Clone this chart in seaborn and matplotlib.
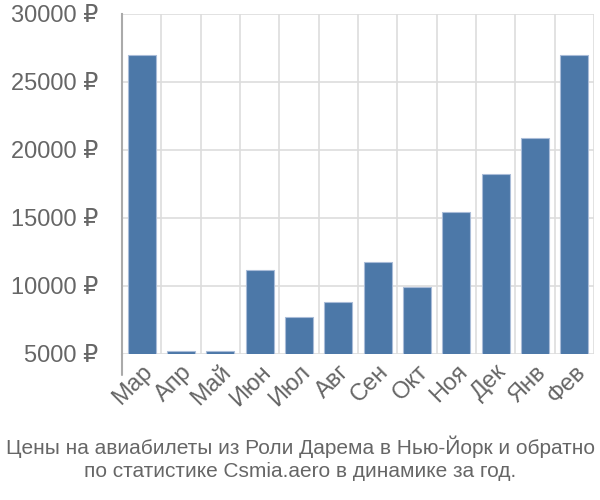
import matplotlib
matplotlib.use("Agg")
import matplotlib.pyplot as plt
import seaborn as sns
import pandas as pd
import numpy as np

months = ["Мар", "Апр", "Май", "Июн", "Июл", "Авг", "Сен", "Окт", "Ноя", "Дек", "Янв", "Фев"]
prices = [27000, 5230, 5230, 11150, 7700, 8800, 11750, 9900, 15450, 18250, 20900, 27000]
yticks = [5000, 10000, 15000, 20000, 25000, 30000]
title = "Цены на авиабилеты из Роли Дарема в Нью-Йорк и обратно\nпо статистике Csmia.aero в динамике за год."

sns.set_style("white")
plt.rcParams['font.family'] = ['Liberation Sans', 'DejaVu Sans']

df = pd.DataFrame({"month": months, "price": prices})

fig = plt.figure(figsize=(6, 5), dpi=100)
ax = fig.add_axes([122/600, 1-354/500, (594-122)/600, (354-14)/500])

sns.barplot(data=df, x="month", y="price", ax=ax, color="#4c78a8", saturation=1,
            width=0.72, edgecolor="#a9bcd8", linewidth=0.8, zorder=3)

ax.set_xlim(-0.5, len(months) - 0.5)
ax.set_ylim(5000, 30000)
ax.set_yticks(yticks)
ax.set_yticklabels([f"{v} ₽" for v in yticks])
ax.set_xlabel("")
ax.set_ylabel("")

grid_c = "#dddddd"
text_c = "#666666"
ax.set_xticks(np.arange(len(months)) + 0.5, minor=True)
ax.tick_params(axis="x", which="minor", length=15, width=1.2, color=grid_c)
ax.tick_params(axis="x", which="major", length=0, labelsize=17, labelcolor=text_c, pad=5)
ax.tick_params(axis="y", which="major", length=15, width=1.2, color=grid_c, labelsize=17, labelcolor=text_c, pad=2)
ax.grid(axis="x", which="minor", color=grid_c, linewidth=1.2, zorder=0)
ax.grid(axis="y", which="major", color=grid_c, linewidth=1.2, zorder=0)
ax.set_axisbelow(True)

for lab in ax.get_xticklabels():
    lab.set_rotation(45)
    lab.set_ha("right")
    lab.set_va("top")
    lab.set_rotation_mode("anchor")

for s in ["top", "right", "bottom"]:
    ax.spines[s].set_visible(False)
ax.spines["left"].set_color("#aaaaaa")
ax.spines["left"].set_linewidth(1.5)
ax.plot([-0.5, -0.5], [-21/340, 0], transform=ax.get_xaxis_transform(), color="#aaaaaa", lw=1.5, clip_on=False)

fig.text(0.5, 1 - 435/500, title, ha="center", va="top", fontsize=15, color=text_c, linespacing=1.33)

fig.savefig("out.png", dpi=100)
